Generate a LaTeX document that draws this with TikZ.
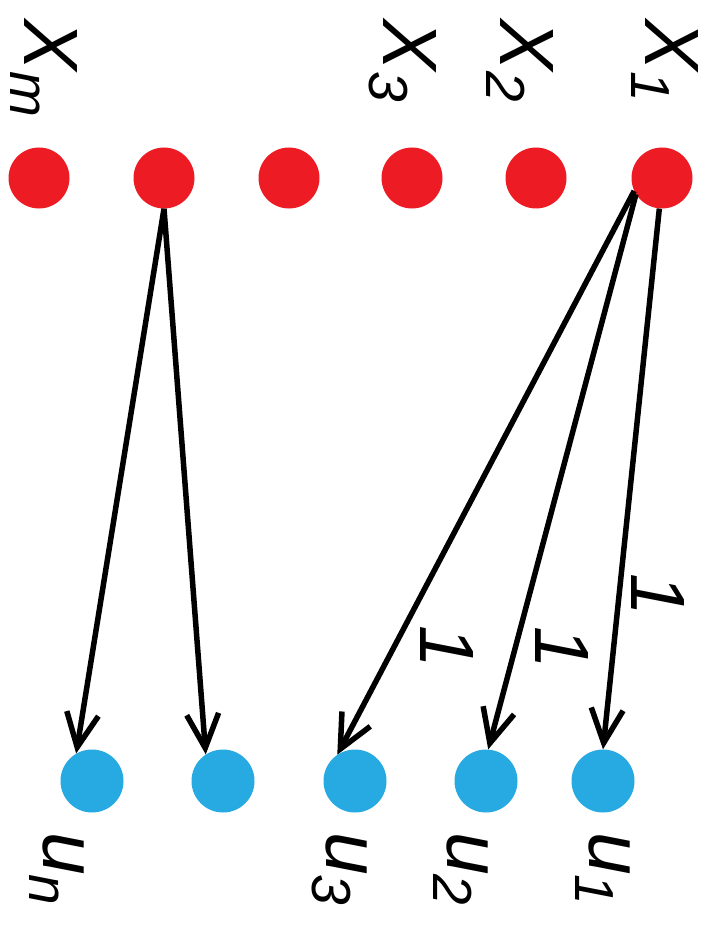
\documentclass[tikz,border=0pt]{standalone}
\usepackage{fontspec}
\setmainfont{Liberation Sans}
\usetikzlibrary{arrows.meta}
\definecolor{redn}{RGB}{237,28,36}
\definecolor{bluen}{RGB}{39,170,225}
\newcommand\labsub[2]{\fontsize{77}{77}\selectfont\itshape #1\raisebox{-0.17em}{\fontsize{55}{55}\selectfont #2}}
\begin{document}
\begin{tikzpicture}[x=1pt,y=-1pt,
  rednode/.style={circle,fill=redn,minimum size=61pt,inner sep=0pt},
  bluenode/.style={circle,fill=bluen,minimum size=63pt,inner sep=0pt},
  lab/.style={rotate=-90,anchor=base west,inner sep=0pt,outer sep=0pt},
  wlab/.style={rotate=-90,anchor=center,inner sep=0pt,font=\fontsize{77}{77}\selectfont\itshape},
  conn/.style={line width=5.5pt,-{Straight Barb[length=34pt,width=32pt]}}]
\useasboundingbox (0,0) rectangle (716,928);
% red nodes
\node[rednode] (x1) at (662,178) {};
\node[rednode] (x2) at (536,178) {};
\node[rednode] (x3) at (412,178) {};
\node[rednode] (x4) at (289,178) {};
\node[rednode] (x5) at (164,178) {};
\node[rednode] (xm) at (39,178) {};
% blue nodes
\node[bluenode] (u1) at (603,781) {};
\node[bluenode] (u2) at (486,781) {};
\node[bluenode] (u3) at (355,781) {};
\node[bluenode] (u4) at (223,781) {};
\node[bluenode] (un) at (92,781) {};
% labels
\node[lab] (lx1) at (645,20) {\labsub{X}{1}};
\node[lab] (lx2) at (500,20) {\labsub{X}{2}};
\node[lab] (lx3) at (383,20) {\labsub{X}{3}};
\node[lab] (lxm) at (24,20) {\labsub{X}{m}};
\node[lab] (lu1) at (589,832) {\labsub{u}{1}};
\node[lab] (lu2) at (447,832) {\labsub{u}{2}};
\node[lab] (lu3) at (326,832) {\labsub{u}{3}};
\node[lab] (lun) at (43,832) {\labsub{u}{n}};
% connectors
\draw[conn] (x1.265) -- (u1.north);
\draw[conn] (x1.212) -- (u2.86);
\draw[conn] (x1.205) -- (u3.124);
\draw[conn] (x5.south) -- (u4.123);
\draw[conn] (x5.south) -- (un.120);
% weights
\node[wlab] (w1) at (658,595) {1};
\node[wlab] (w2) at (562,648) {1};
\node[wlab] (w3) at (447,647) {1};
\end{tikzpicture}
\end{document}
